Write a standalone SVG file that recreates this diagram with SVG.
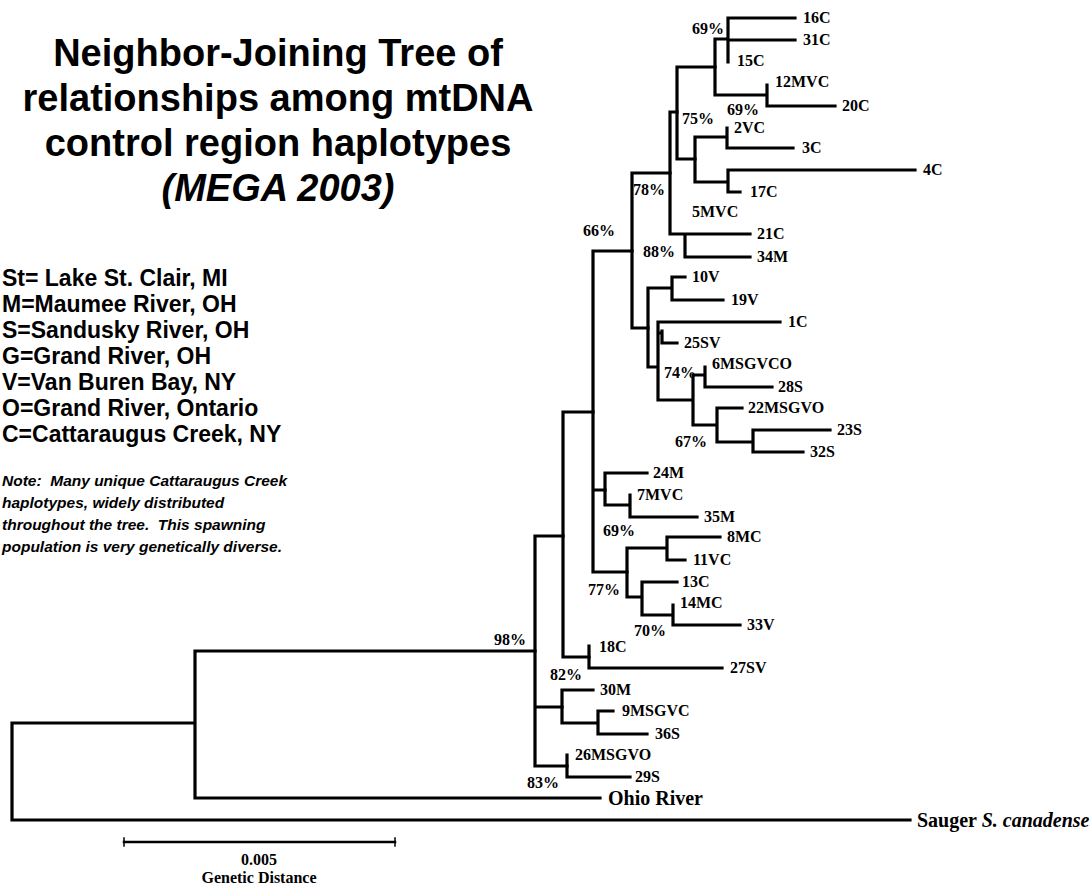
<svg xmlns="http://www.w3.org/2000/svg" width="1092" height="888" viewBox="0 0 1092 888">
<style>
.br{fill:none;stroke:#000;stroke-width:3.2;stroke-linecap:square}
.lbl{font-family:"Liberation Serif","Times New Roman",serif;font-weight:bold;font-size:16px;fill:#000}
.big{font-family:"Liberation Serif","Times New Roman",serif;font-weight:bold;font-size:20px;fill:#000}
.title{font-family:"Liberation Sans",Arial,sans-serif;font-weight:bold;font-size:38px;fill:#000;text-anchor:middle}
.leg{font-family:"Liberation Sans",Arial,sans-serif;font-weight:bold;font-size:23px;fill:#000}
.note{font-family:"Liberation Sans",Arial,sans-serif;font-weight:bold;font-style:italic;font-size:15.5px;fill:#000}
</style>
<rect width="1092" height="888" fill="#fff"/>
<g id="title">
<text class="title" x="278" y="66">Neighbor-Joining Tree of</text>
<text class="title" x="278" y="111">relationships among mtDNA</text>
<text class="title" x="278" y="156">control region haplotypes</text>
<text class="title" x="278" y="201" font-style="italic">(MEGA 2003)</text>
</g>
<g id="legend">
<text class="leg" x="2" y="286">St= Lake St. Clair, MI</text>
<text class="leg" x="2" y="312">M=Maumee River, OH</text>
<text class="leg" x="2" y="338">S=Sandusky River, OH</text>
<text class="leg" x="2" y="364">G=Grand River, OH</text>
<text class="leg" x="2" y="390">V=Van Buren Bay, NY</text>
<text class="leg" x="2" y="416">O=Grand River, Ontario</text>
<text class="leg" x="2" y="442">C=Cattaraugus Creek, NY</text>
</g>
<g id="note">
<text class="note" x="2" y="486" xml:space="preserve">Note:  Many unique Cattaraugus Creek</text>
<text class="note" x="2" y="508">haplotypes, widely distributed</text>
<text class="note" x="2" y="530" xml:space="preserve">throughout the tree.  This spawning</text>
<text class="note" x="2" y="552">population is very genetically diverse.</text>
</g>
<g id="connectors" class="br">
<path d="M12,723V820M12,723H195M12,820H910M195,651V798M195,651H535M195,798H600"/>
<path d="M535,536V766M535,536H563M535,707H562M535,766H567"/>
<path d="M563,412V657M563,412H593M563,657H589"/>
<path d="M589,646V668H722"/>
<path d="M562,690V723M562,690H593M562,723H598M598,711V734M598,711H613M598,734H647"/>
<path d="M567,755V777H630"/>
<path d="M593,251V572M593,251H632M593,490H605M593,572H627"/>
<path d="M605,473V505M605,473H647M605,505H630M630,495V517H697"/>
<path d="M627,548V597M627,548H667M667,537V560M667,537H720M667,560H685M627,597H642M642,582V615M642,582H677M642,615H673M673,605V625H740"/>
<path d="M632,173V328M632,173H670M632,328H648"/>
<path d="M670,112V234H750M670,112H677M685,234V257H750"/>
<path d="M677,67V159M677,67H715M677,159H695"/>
<path d="M715,39V95M715,39H728M728,18V62M728,18H795M728,40H795M715,95H767M767,85V106H835"/>
<path d="M695,137V182M695,137H727M727,128V148H793M695,182H728M728,170V192H740M728,170H915"/>
<path d="M648,288V367M648,288H672M672,277V300M672,277H685M672,300H723M648,367H658M658,322V400M658,322H780M658,333H662M662,331V343H677M658,400H693M693,375V425M693,375H705M705,367V387H772M693,425H717M717,408V442M717,408H742M717,442H753M753,430V452H803M753,430H830"/>
<path d="M124,842H395" stroke-width="2.5"/>
<path d="M124,838V846M395,838V846" stroke-width="1.5"/>
</g>
<g id="leaf-16C"><text class="lbl" x="803" y="23">16C</text></g>
<g id="leaf-31C"><text class="lbl" x="803" y="45">31C</text></g>
<g id="leaf-15C"><text class="lbl" x="737" y="66">15C</text></g>
<g id="leaf-12MVC"><text class="lbl" x="775" y="87">12MVC</text></g>
<g id="leaf-20C"><text class="lbl" x="842" y="111">20C</text></g>
<g id="leaf-2VC"><text class="lbl" x="734" y="133">2VC</text></g>
<g id="leaf-3C"><text class="lbl" x="802" y="153">3C</text></g>
<g id="leaf-4C"><text class="lbl" x="923" y="175">4C</text></g>
<g id="leaf-17C"><text class="lbl" x="750" y="197">17C</text></g>
<g id="leaf-5MVC"><text class="lbl" x="692" y="217">5MVC</text></g>
<g id="leaf-21C"><text class="lbl" x="757" y="239">21C</text></g>
<g id="leaf-34M"><text class="lbl" x="757" y="262">34M</text></g>
<g id="leaf-10V"><text class="lbl" x="692" y="282">10V</text></g>
<g id="leaf-19V"><text class="lbl" x="731" y="305">19V</text></g>
<g id="leaf-1C"><text class="lbl" x="788" y="327">1C</text></g>
<g id="leaf-25SV"><text class="lbl" x="684" y="348">25SV</text></g>
<g id="leaf-6MSGVCO"><text class="lbl" x="712" y="369">6MSGVCO</text></g>
<g id="leaf-28S"><text class="lbl" x="778" y="392">28S</text></g>
<g id="leaf-22MSGVO"><text class="lbl" x="748" y="413">22MSGVO</text></g>
<g id="leaf-23S"><text class="lbl" x="837" y="435">23S</text></g>
<g id="leaf-32S"><text class="lbl" x="810" y="457">32S</text></g>
<g id="leaf-24M"><text class="lbl" x="653" y="478">24M</text></g>
<g id="leaf-7MVC"><text class="lbl" x="637" y="500">7MVC</text></g>
<g id="leaf-35M"><text class="lbl" x="704" y="522">35M</text></g>
<g id="leaf-8MC"><text class="lbl" x="727" y="542">8MC</text></g>
<g id="leaf-11VC"><text class="lbl" x="693" y="565">11VC</text></g>
<g id="leaf-13C"><text class="lbl" x="682" y="587">13C</text></g>
<g id="leaf-14MC"><text class="lbl" x="680" y="608">14MC</text></g>
<g id="leaf-33V"><text class="lbl" x="747" y="630">33V</text></g>
<g id="leaf-18C"><text class="lbl" x="599" y="652">18C</text></g>
<g id="leaf-27SV"><text class="lbl" x="730" y="673">27SV</text></g>
<g id="leaf-30M"><text class="lbl" x="600" y="695">30M</text></g>
<g id="leaf-9MSGVC"><text class="lbl" x="622" y="716">9MSGVC</text></g>
<g id="leaf-36S"><text class="lbl" x="655" y="739">36S</text></g>
<g id="leaf-26MSGVO"><text class="lbl" x="575" y="760">26MSGVO</text></g>
<g id="leaf-29S"><text class="lbl" x="635" y="782">29S</text></g>
<g id="leaf-ohio"><text class="big" x="608" y="805">Ohio River</text></g>
<g id="leaf-sauger"><text class="big" x="917" y="827">Sauger <tspan font-style="italic">S. canadense</tspan></text></g>
<g id="support">
<text class="lbl" x="692" y="34">69%</text>
<text class="lbl" x="682" y="124">75%</text>
<text class="lbl" x="727" y="115">69%</text>
<text class="lbl" x="633" y="195">78%</text>
<text class="lbl" x="583" y="236">66%</text>
<text class="lbl" x="643" y="257">88%</text>
<text class="lbl" x="664" y="378">74%</text>
<text class="lbl" x="675" y="447">67%</text>
<text class="lbl" x="603" y="536">69%</text>
<text class="lbl" x="588" y="595">77%</text>
<text class="lbl" x="634" y="636">70%</text>
<text class="lbl" x="494" y="645">98%</text>
<text class="lbl" x="550" y="680">82%</text>
<text class="lbl" x="527" y="788">83%</text>
</g>
<g id="scale">
<text class="lbl" x="259" y="865" text-anchor="middle">0.005</text>
<text class="lbl" x="259" y="883" text-anchor="middle">Genetic Distance</text>
</g>
</svg>
